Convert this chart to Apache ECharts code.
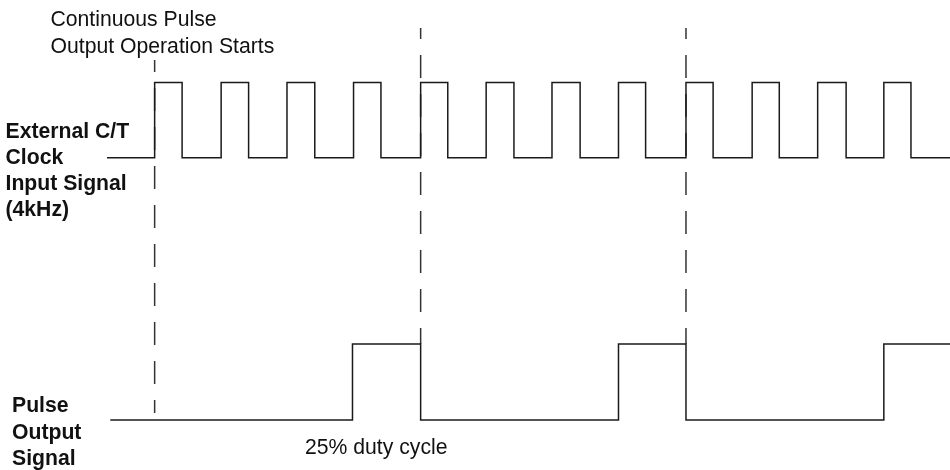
<!DOCTYPE html>
<html>
<head>
<meta charset="utf-8">
<script src="https://cdn.jsdelivr.net/npm/echarts@6/dist/echarts.min.js"></script>
<style>
html,body{margin:0;padding:0;background:#fff;}
#chart{width:950px;height:470px;}
</style>
</head>
<body>
<div id="chart"></div>
<script>
// Time axis in clock periods (rising edge of first pulse = 0)
const timeRange = [-0.72, 12.02];
const levelRange = [-0.5, 5.263];

// External C/T clock input signal (4kHz)
const clockStart = -0.72;
const clockEnd = 12.02;
const clockRise = [0, 1.005, 2.0, 3.006, 4.02, 5.01, 6.005, 7.01, 8.03, 9.03, 10.02, 11.02];
const clockFall = [0.415, 1.42, 2.42, 3.42, 4.43, 5.43, 6.43, 7.42, 8.44, 9.44, 10.45, 11.43];
const clockLow = 3.45;
const clockHigh = 4.44;

// Pulse output signal (25% duty cycle)
const outStart = -0.67;
const outEnd = 12.02;
const outRise = [2.99, 7.01, 11.02];
const outFall = [4.02, 8.03];
const outLow = 0;
const outHigh = 1.0;

// Dashed reference markers
const markerTimes = [0, 4.02, 8.03];
const markerTop = [4.737, 5.158, 5.158];
const markerBottom = [0.092, 1.0, 1.0];
const markerDashOffset = [11, 12, 12];

function buildSquare(start, end, rises, falls, low, high) {
  const edges = [];
  rises.forEach(t => edges.push({t, up: true}));
  falls.forEach(t => edges.push({t, up: false}));
  edges.sort((a, b) => a.t - b.t);
  const pts = [[start, low]];
  let lvl = low;
  edges.forEach(e => {
    pts.push([e.t, lvl]);
    lvl = e.up ? high : low;
    pts.push([e.t, lvl]);
  });
  pts.push([end, lvl]);
  return pts;
}

const clockData = buildSquare(clockStart, clockEnd, clockRise, clockFall, clockLow, clockHigh);
const outData = buildSquare(outStart, outEnd, outRise, outFall, outLow, outHigh);

const FONT = '"Liberation Sans", Arial, Helvetica, sans-serif';
const sigStyle = {color: '#1a1a1a', width: 1.5, type: 'solid', cap: 'butt', join: 'miter'};

const series = [];
markerTimes.forEach((t, i) => {
  series.push({
    type: 'line',
    data: [[t, markerTop[i]], [t, markerBottom[i]]],
    showSymbol: false,
    symbol: 'none',
    silent: true,
    clip: false,
    animation: false,
    z: 1,
    lineStyle: {color: '#333', width: 1.5, type: [23, 16], dashOffset: markerDashOffset[i], cap: 'butt'}
  });
});
series.push({
  name: 'External C/T Clock Input Signal (4kHz)',
  type: 'line', data: clockData, showSymbol: false, symbol: 'none',
  clip: false, animation: false, z: 3, lineStyle: sigStyle
});
series.push({
  name: 'Pulse Output Signal',
  type: 'line', data: outData, showSymbol: false, symbol: 'none',
  clip: false, animation: false, z: 3, lineStyle: sigStyle
});

function txt(text, x, y, bold) {
  return {
    type: 'text', x: x, y: y, silent: true,
    style: {
      text: text, fill: '#111',
      font: (bold ? 'bold ' : '') + '21.2px ' + FONT,
      align: 'left', verticalAlign: 'middle'
    }
  };
}

const chart = echarts.init(document.getElementById('chart'), null, {renderer: 'canvas'});
chart.setOption({
  backgroundColor: '#ffffff',
  animation: false,
  grid: {left: 107, right: 0, top: 20, bottom: 12},
  xAxis: {type: 'value', min: timeRange[0], max: timeRange[1], show: false},
  yAxis: {type: 'value', min: levelRange[0], max: levelRange[1], show: false},
  series: series,
  graphic: [
    txt('Continuous Pulse', 50.5, 20, false),
    txt('Output Operation Starts', 50.5, 47.5, false),
    txt('External C/T', 5.5, 132.5, true),
    txt('Clock', 5.5, 158, true),
    txt('Input Signal', 5.5, 184, true),
    txt('(4kHz)', 5.5, 210, true),
    txt('Pulse', 12, 406.5, true),
    txt('Output', 12, 433, true),
    txt('Signal', 12, 459.5, true),
    txt('25% duty cycle', 305, 448.3, false)
  ]
});
</script>
</body>
</html>
